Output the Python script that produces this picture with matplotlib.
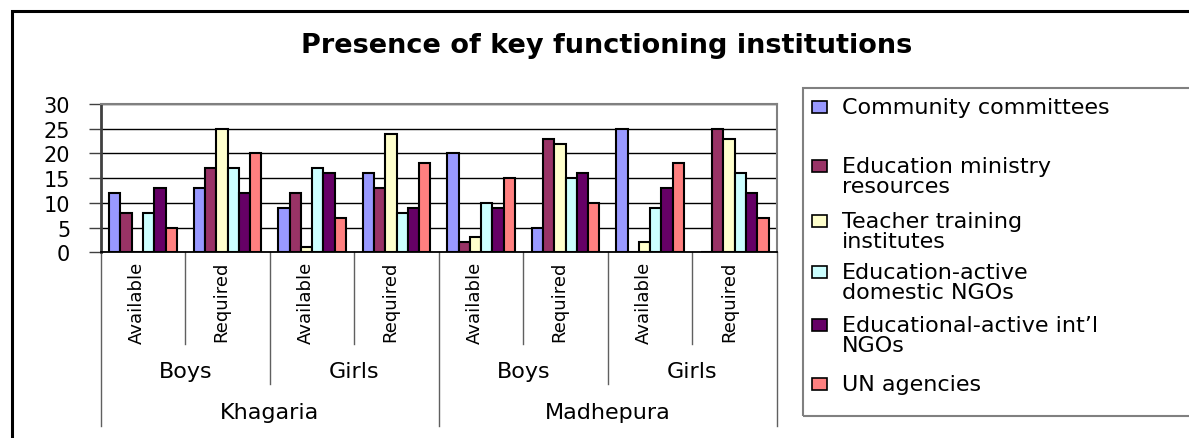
import numpy as np
import matplotlib
matplotlib.use('Agg')
import matplotlib.pyplot as plt
from matplotlib.patches import Rectangle
from matplotlib.lines import Line2D
from matplotlib.transforms import blended_transform_factory

# Datos del grafico
categorias = ['Available', 'Required', 'Available', 'Required',
              'Available', 'Required', 'Available', 'Required']
generos = ['Boys', 'Girls', 'Boys', 'Girls']
distritos = ['Khagaria', 'Madhepura']

series = ['Community committees', 'Education ministry\nresources',
          'Teacher training\ninstitutes', 'Education-active\ndomestic NGOs',
          "Educational-active int\u2019l\nNGOs", 'UN agencies']

community = [12, 13, 9, 16, 20, 5, 25, 0]
ministry = [8, 17, 12, 13, 2, 23, 0, 25]
teacher = [0, 25, 1, 24, 3, 22, 2, 23]
domestic = [8, 17, 17, 8, 10, 15, 9, 16]
intl = [13, 12, 16, 9, 9, 16, 13, 12]
un = [5, 20, 7, 18, 15, 10, 18, 7]

valores = [community, ministry, teacher, domestic, intl, un]
colores = ['#9999FF', '#993366', '#FFFFCC', '#CCFFFF', '#660066', '#FF8080']

W, H = 1189, 439
plt.rcParams['font.family'] = ['DejaVu Sans']

fig = plt.figure(figsize=(W / 100, H / 100), dpi=100)

def fx(p):
    return p / W

def fy(p):
    return 1 - p / H

# Marco exterior del grafico
fig.patches.append(Rectangle((fx(12), fy(460)), fx(1200), fy(12) - fy(460),
                             transform=fig.transFigure, fill=False,
                             edgecolor='black', linewidth=2.2))

# Area de trazado
izq, der, arr, aba = 100.7, 777, 105, 253.3
ax = fig.add_axes([fx(izq), fy(aba), fx(der - izq), fy(arr) - fy(aba)])

n = len(categorias)
x = np.arange(n)
ancho = 1 / 7.5
for i, (vals, col) in enumerate(zip(valores, colores)):
    ax.bar(x + (i - 2.5) * ancho, vals, ancho, color=col,
           edgecolor='black', linewidth=1.5, zorder=3)

ax.set_xlim(-0.5, n - 0.5)
ax.set_ylim(0, 30)
ax.set_yticks(range(0, 31, 5))
ax.set_yticklabels([str(v) for v in range(0, 31, 5)], fontsize=15)
ax.tick_params(axis='y', length=9, width=1, color='#404040', pad=13)
ax.set_xticks([])
ax.grid(axis='y', color='black', linewidth=1, zorder=0)
ax.spines['top'].set_color('#808080')
ax.spines['right'].set_color('#808080')
ax.spines['top'].set_linewidth(1.5)
ax.spines['right'].set_linewidth(1.5)
ax.spines['left'].set_color('#404040')
ax.spines['left'].set_linewidth(2)
ax.spines['bottom'].set_color('black')
ax.spines['bottom'].set_linewidth(1.3)
ax.spines['bottom'].set_zorder(4)

# Etiquetas de categorias en varios niveles
tr = blended_transform_factory(ax.transData, fig.transFigure)
for i, cat in enumerate(categorias):
    ax.text(i - 0.07, fy(262), cat, rotation=90, ha='center', va='top',
            fontsize=13, transform=tr)
for i, g in enumerate(generos):
    ax.text(2 * i + 0.5, fy(372), g, ha='center', va='center',
            fontsize=16, transform=tr)
for i, d in enumerate(distritos):
    ax.text(4 * i + 1.5, fy(413), d, ha='center', va='center',
            fontsize=16, transform=tr)

for b in np.arange(-0.5, n, 1.0):
    if b in (-0.5, 3.5, 7.5):
        fin = 427
    elif b in (1.5, 5.5):
        fin = 385
    else:
        fin = 345
    ax.add_line(Line2D([b, b], [fy(aba), fy(fin)], transform=tr,
                       color='#606060', linewidth=1, clip_on=False))

# Titulo
fig.text(fx(607), fy(53), 'Presence of key functioning institutions',
         ha='center', va='baseline', fontsize=19.5, fontweight='bold')

# Leyenda
fig.patches.append(Rectangle((fx(803), fy(417)), fx(420), fy(89) - fy(417),
                             transform=fig.transFigure, fill=False,
                             edgecolor='#808080', linewidth=1.5))
bases = [114, 173, 228, 279, 332, 391]
for etiqueta, col, base in zip(series, colores, bases):
    fig.patches.append(Rectangle((fx(812), fy(base)), fx(15), fy(base - 12) - fy(base),
                                 transform=fig.transFigure, facecolor=col,
                                 edgecolor='black', linewidth=1.2))
    for k, linea in enumerate(etiqueta.split('\n')):
        fig.text(fx(842), fy(base + 20 * k), linea, ha='left', va='baseline',
                 fontsize=16)

plt.savefig('out.png', dpi=100)
plt.close()
